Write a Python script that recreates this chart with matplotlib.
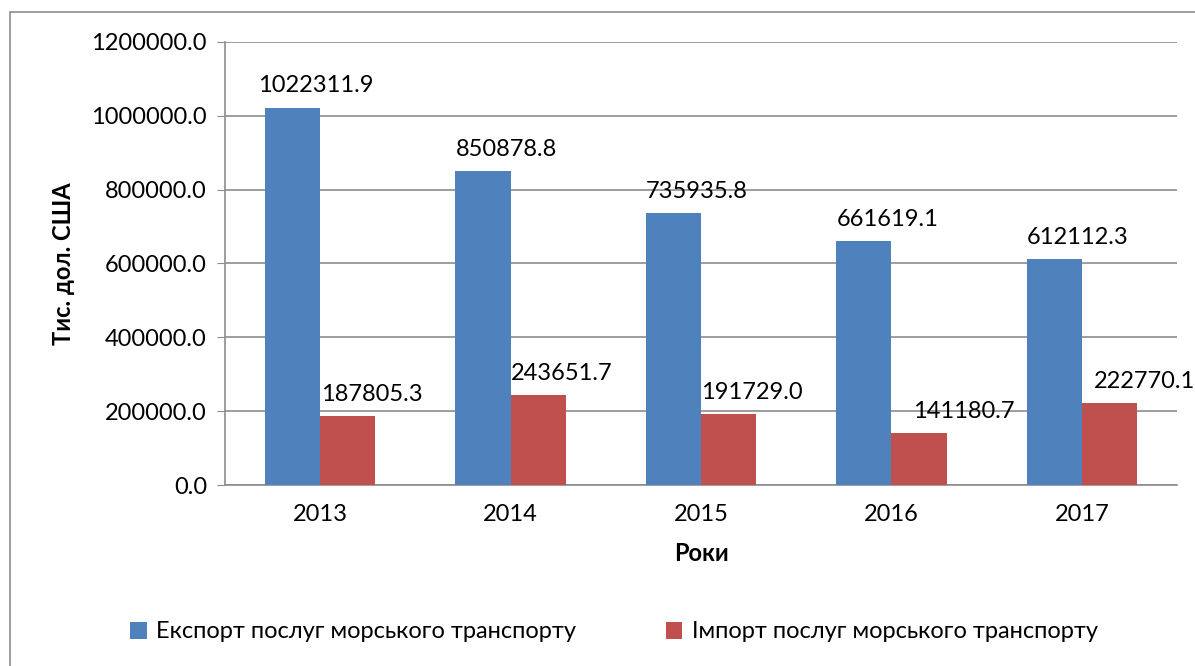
import matplotlib.pyplot as plt
from matplotlib.patches import Rectangle
import numpy as np

plt.rcParams['font.family'] = ['Lato', 'DejaVu Sans']

# Дані
years = ['2013', '2014', '2015', '2016', '2017']
export = [1022311.9, 850878.8, 735935.8, 661619.1, 612112.3]
imports = [187805.3, 243651.7, 191729.0, 141180.7, 222770.1]
labels = ['Експорт послуг морського транспорту', 'Імпорт послуг морського транспорту']
colors = ['#4F81BD', '#C0504D']

fig = plt.figure(figsize=(11.95, 6.66), dpi=100)
ax = fig.add_axes([225 / 1195, 1 - 485 / 666, (1177 - 225) / 1195, (485 - 42) / 666])

# рамка навколо діаграми
fig.patches.append(Rectangle((10 / 1195, -0.01), 1.1, 1 - 12 / 666 + 0.01,
                             transform=fig.transFigure, fill=False,
                             edgecolor='#8c8c8c', linewidth=1.2))

x = np.arange(len(years))
w = 0.29
b1 = ax.bar(x - w / 2, export, w, color=colors[0], label=labels[0], zorder=3)
b2 = ax.bar(x + w / 2, imports, w, color=colors[1], label=labels[1], zorder=3)

fs = 17
for k, bars in enumerate((b1, b2)):
    for i, r in enumerate(bars):
        v = r.get_height()
        dx = 17
        if k == 1 and i == 3:
            dx = 32  # підпис 2016 зсунутий правіше
        if k == 1 and i == 4:
            dx = 25
        ax.annotate(f'{v:.1f}', (r.get_x() + r.get_width() / 2, v),
                    xytext=(dx, 8), textcoords='offset points',
                    ha='center', va='bottom', fontsize=fs, zorder=4,
                    annotation_clip=False)

ax.set_xlim(-0.5, 4.5)
ax.set_ylim(0, 1200000)
ax.set_yticks(np.arange(0, 1200001, 200000))
ax.set_yticklabels([f'{t:.1f}' for t in np.arange(0, 1200001, 200000)])
ax.set_xticks(x)
ax.set_xticklabels(years)
ax.tick_params(axis='y', length=6, color='#8c8c8c', labelsize=fs, pad=7)
ax.tick_params(axis='x', length=0, labelsize=fs, pad=14)

ax.yaxis.grid(True, color='#8c8c8c', linewidth=1.2, zorder=0)
ax.set_axisbelow(True)
for s in ['top', 'right']:
    ax.spines[s].set_visible(False)
for s in ['left', 'bottom']:
    ax.spines[s].set_color('#8c8c8c')
    ax.spines[s].set_linewidth(1.2)

ax.set_ylabel('Тис. дол. США', fontsize=fs, fontweight='bold', labelpad=12)
ax.set_xlabel('Роки', fontsize=fs, fontweight='bold', labelpad=12)

fig.legend(loc='center', bbox_to_anchor=(614 / 1195, 1 - 632 / 666), ncol=2,
           frameon=False, fontsize=fs, handlelength=0.7, handleheight=0.7,
           handletextpad=0.4, columnspacing=3.8)

fig.savefig('out.png', dpi=100)
